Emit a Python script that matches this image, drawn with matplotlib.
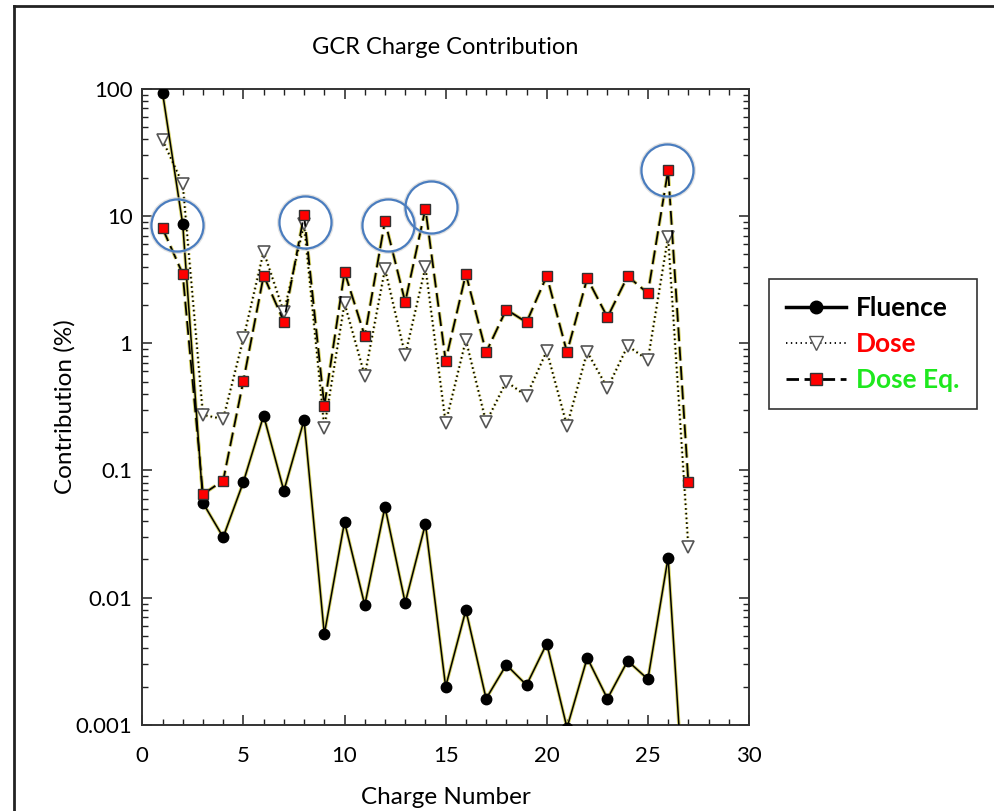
import numpy as np
import matplotlib
matplotlib.use("Agg")
import matplotlib.pyplot as plt
from matplotlib.lines import Line2D
from matplotlib.ticker import FixedLocator, NullFormatter, LogLocator

plt.rcParams['font.family'] = ['Lato', 'DejaVu Sans']
plt.rcParams['lines.scale_dashes'] = False

# charge number Z = 1..27
charge = np.arange(1, 28)

fluence = [93, 8.6, 0.0556, 0.0299, 0.0813, 0.27, 0.0692, 0.249, 0.00518, 0.0394,
           0.00875, 0.0518, 0.00912, 0.038, 0.002, 0.008, 0.00161, 0.00297, 0.00206,
           0.00436, 0.00095, 0.00337, 0.00161, 0.00319, 0.00229, 0.0207, 0.00007]
dose = [39.6, 17.8, 0.273, 0.254, 1.09, 5.25, 1.75, 8.6, 0.217, 2.06,
        0.556, 3.84, 0.805, 3.96, 0.236, 1.06, 0.239, 0.499, 0.385,
        0.87, 0.224, 0.855, 0.444, 0.953, 0.739, 6.87, 0.0252]
dose_eq = [8.0, 3.5, 0.0651, 0.0834, 0.508, 3.4, 1.48, 10.2, 0.321, 3.63,
           1.14, 9.14, 2.11, 11.4, 0.73, 3.5, 0.849, 1.84, 1.46,
           3.38, 0.849, 3.24, 1.6, 3.36, 2.47, 22.9, 0.081]

# highlighted peaks
peak_z = [1.72, 8.05, 12.15, 14.27, 25.94]
peak_v = [8.5, 8.97, 8.5, 11.8, 23.0]

fig = plt.figure(figsize=(9.94, 8.11), dpi=100)
ax = fig.add_axes([142.3/994, 1-725/811, (749-142.3)/994, (725-88.7)/811])

halo = '#d8d46a'
# dose (dotted, open triangles)
ax.plot(charge, dose, color=halo, lw=2.4, dashes=(1.2, 2.2), zorder=2)
ax.plot(charge, dose, color='black', lw=1.2, dashes=(1.2, 2.2),
        marker='v', ms=8, mfc='white', mec='#555555', mew=1.2, zorder=3)
# fluence (solid, filled circles)
ax.plot(charge, fluence, color=halo, lw=2.4, zorder=2)
ax.plot(charge, fluence, color='black', lw=1.1,
        marker='o', ms=7.5, mfc='black', mec='black', zorder=4)
# dose equivalent (long dash, red squares)
ax.plot(charge, dose_eq, color=halo, lw=2.6, dashes=(10, 4), zorder=2)
ax.plot(charge, dose_eq, color='black', lw=1.3, dashes=(10, 4),
        marker='s', ms=7.5, mfc='#ff0000', mec='#333333', mew=1.0, zorder=5)

# soft shadow + ring around the peaks
ax.plot(peak_z, peak_v, ls='none', marker='o', ms=38.5, mfc='none',
        mec='#d0d0d0', mew=2.5, alpha=0.6, zorder=5.5)
ax.plot(peak_z, peak_v, ls='none', marker='o', ms=37.5, mfc='none',
        mec='#4a7dbf', mew=1.6, zorder=6)

ax.set_yscale('log')
ax.set_xlim(0, 30)
ax.set_ylim(0.001, 100)
ax.set_xticks([0, 5, 10, 15, 20, 25, 30])
ax.xaxis.set_minor_locator(FixedLocator(np.arange(0, 31, 1)))
ax.yaxis.set_minor_locator(LogLocator(base=10, subs=np.arange(2, 10), numticks=20))
ax.yaxis.set_minor_formatter(NullFormatter())
ax.set_yticks([0.001, 0.01, 0.1, 1, 10, 100])
ax.set_yticklabels(['0.001', '0.01', '0.1', '1', '10', '100'])

ax.tick_params(which='both', direction='in', top=True, right=True, colors='#222222',
               labelsize=16, labelcolor='black')
ax.tick_params(which='major', length=7, width=1.1, pad=7)
ax.tick_params(axis='x', which='major', pad=15)
ax.tick_params(which='minor', length=4.5, width=1.0)
for s in ax.spines.values():
    s.set_color('#333333')
    s.set_linewidth(1.4)

ax.set_title('GCR Charge Contribution', fontsize=17, pad=25)
ax.set_xlabel('Charge Number', fontsize=17.5, labelpad=15)
ax.set_ylabel('Contribution (%)', fontsize=17.5, labelpad=0)

handles = [
    Line2D([], [], color='black', lw=2.5, marker='o', ms=9, mfc='black'),
    Line2D([], [], color='black', lw=1.3, dashes=(1, 2.5), marker='v', ms=10,
           mfc='white', mec='#555555'),
    Line2D([], [], color='black', lw=2.0, dashes=(9, 4), marker='s', ms=9,
           mfc='#ff0000', mec='#333333'),
]
leg = fig.legend(handles, ['Fluence', 'Dose', 'Dose Eq.'], loc='upper left',
                 bbox_to_anchor=(769/994, 1-279/811), borderaxespad=0,
                 fancybox=False, edgecolor='#333333', framealpha=1,
                 prop={'weight': 'bold', 'size': 19}, handlelength=2.25,
                 handletextpad=0.4, labelspacing=0.45, borderpad=0.65)
leg.get_frame().set_linewidth(1.2)
for t, c in zip(leg.get_texts(), ['black', '#ff0000', '#1ee81e']):
    t.set_color(c)

# outer frame
fig.add_artist(Line2D([14/994, 1], [1-6/811, 1-6/811], color='#222222', lw=2))
fig.add_artist(Line2D([14/994, 14/994], [0, 1-6/811], color='#222222', lw=2))

fig.savefig('out.png', dpi=100)
